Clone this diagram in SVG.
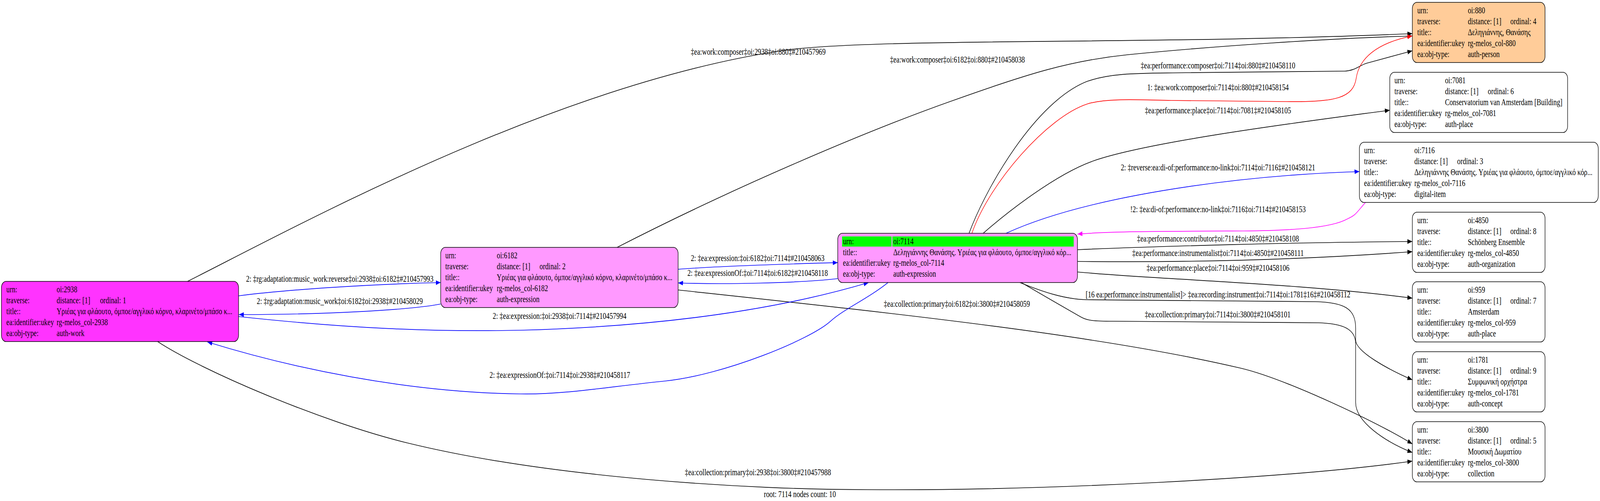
<svg xmlns="http://www.w3.org/2000/svg" width="5533" height="1282" viewBox="0 0 5533 1282" preserveAspectRatio="none" style="width:100vw;height:100vh">
<style>
text { font-family: "Liberation Serif", "Times New Roman", "Noto Sans CJK SC", serif; font-size: 23.33px; fill: #000; }
.lbl { text-anchor: middle; }
.box { stroke: #000; stroke-width: 1.7; }
.e { fill: none; stroke-width: 1.7; }
.k { stroke: #000; }
.b { stroke: #0000ff; }
.r { stroke: #ff0000; }
.m { stroke: #ff00ff; }
</style>
<defs>
<marker id="ak" markerUnits="userSpaceOnUse" markerWidth="17" markerHeight="12" viewBox="0 0 17 12" refX="17" refY="6" orient="auto"><path d="M0,0 L17,6 L0,12 z" fill="#000"/></marker>
<marker id="ab" markerUnits="userSpaceOnUse" markerWidth="17" markerHeight="12" viewBox="0 0 17 12" refX="17" refY="6" orient="auto"><path d="M0,0 L17,6 L0,12 z" fill="#0000ff"/></marker>
<marker id="ar" markerUnits="userSpaceOnUse" markerWidth="17" markerHeight="12" viewBox="0 0 17 12" refX="17" refY="6" orient="auto"><path d="M0,0 L17,6 L0,12 z" fill="#ff0000"/></marker>
<marker id="am" markerUnits="userSpaceOnUse" markerWidth="17" markerHeight="12" viewBox="0 0 17 12" refX="17" refY="6" orient="auto"><path d="M0,0 L17,6 L0,12 z" fill="#ff00ff"/></marker>
</defs>
<rect x="0" y="0" width="5533" height="1282" fill="#fff"/>

<g id="edges">
<path class="e k" marker-end="url(#ak)" d="M635,725 C1000,590 1900,220 2700,130 C3000,96 4000,115 4884,86"/>
<text class="lbl" x="2622" y="140">‡ea:work:composer‡oi:2938‡oi:880‡#210457969</text>
<path class="e k" marker-end="url(#ak)" d="M2134,633 C2534,481 3000,334 3300,256 C3550,190 3700,155 3900,140 C4200,118 4600,98 4884,92"/>
<text class="lbl" x="3311" y="160">‡ea:work:composer‡oi:6182‡oi:880‡#210458038</text>
<path class="e k" marker-end="url(#ak)" d="M3351,597 C3410,480 3580,260 3760,208 C3850,185 3950,188 4100,186 L4650,182 C4685,181 4700,168 4725,162 L4884,130"/>
<text class="lbl" x="4212" y="175">‡ea:performance:composer‡oi:7114‡oi:880‡#210458110</text>
<path class="e r" marker-end="url(#ar)" d="M3361,597 C3420,470 3620,300 3760,266 C3830,250 3950,256 4050,257 L4450,260 C4620,262 4680,250 4690,200 C4700,150 4760,110 4884,92"/>
<text class="lbl" x="4212" y="231">1: ‡ea:work:composer‡oi:7114‡oi:880‡#210458154</text>
<path class="e k" marker-end="url(#ak)" d="M3400,597 C3480,545 3650,446 3780,412 C3980,360 4556,307 4806,282"/>
<text class="lbl" x="4212" y="290">‡ea:performance:place‡oi:7114‡oi:7081‡#210458105</text>
<path class="e b" marker-end="url(#ab)" d="M3479,597 C3750,505 4250,450 4701,439"/>
<text class="lbl" x="4212" y="436">2: ‡reverse:ea:di-of:performance:no-link‡oi:7114‡oi:7116‡#210458121</text>
<path class="e m" marker-end="url(#am)" d="M4723,517 C4690,545 4690,550 4660,560 C4600,585 4450,590 4300,591 C4000,592 3850,592 3726,599"/>
<text class="lbl" x="4212" y="543">!2: ‡ea:di-of:performance:no-link‡oi:7116‡oi:7114‡#210458153</text>
<path class="e k" marker-end="url(#ak)" d="M3726,639 C4000,630 4500,620 4884,618"/>
<text class="lbl" x="4212" y="618">‡ea:performance:contributor‡oi:7114‡oi:4850‡#210458108</text>
<path class="e k" marker-end="url(#ak)" d="M3726,669 C4100,672 4500,665 4884,644"/>
<text class="lbl" x="4212" y="655">‡ea:performance:instrumentalist‡oi:7114‡oi:4850‡#210458111</text>
<path class="e k" marker-end="url(#ak)" d="M3726,696 C4000,715 4500,725 4884,763"/>
<text class="lbl" x="4212" y="693">‡ea:performance:place‡oi:7114‡oi:959‡#210458106</text>
<path class="e k" marker-end="url(#ak)" d="M3527,723 C3600,745 3680,766 3760,767 L4550,772 C4650,774 4688,790 4688,840 L4688,870 C4688,900 4800,945 4884,972"/>
<text class="lbl" x="4212" y="761">[16 ea:performance:instrumentalist]&gt; ‡ea:recording:instrument‡oi:7114‡oi:1781‡16‡#210458112</text>
<path class="e k" marker-end="url(#ak)" d="M3532,723 C3640,770 3700,795 3740,812 C3760,820 3780,822 3850,822 L4560,826 C4640,828 4688,840 4688,880 L4688,1030 C4688,1080 4790,1130 4884,1158"/>
<text class="lbl" x="4211" y="812">‡ea:collection:primary‡oi:7114‡oi:3800‡#210458101</text>
<path class="e k" marker-end="url(#ak)" d="M2345,742 C3045,798 3790,855 4290,942 C4440,968 4764,1080 4884,1136"/>
<text class="lbl" x="3309" y="785">‡ea:collection:primary‡oi:6182‡oi:3800‡#210458059</text>
<path class="e k" marker-end="url(#ak)" d="M545,874 C695,947 1112,1080 1412,1134 C1912,1224 2600,1253 3000,1253 C3600,1256 4450,1225 4884,1180"/>
<text class="lbl" x="2621" y="1216">‡ea:collection:primary‡oi:2938‡oi:3800‡#210457988</text>
<path class="e b" marker-end="url(#ab)" d="M825,757 C1000,740 1300,727 1524,723"/>
<text class="lbl" x="1175" y="721">2: ‡rg:adaptation:music_work:reverse‡oi:2938‡oi:6182‡#210457993</text>
<path class="e b" marker-end="url(#ab)" d="M1524,778 C1400,795 1100,805 826,805"/>
<text class="lbl" x="1175" y="778">2: ‡rg:adaptation:music_work‡oi:6182‡oi:2938‡#210458029</text>
<path class="e b" marker-end="url(#ab)" d="M825,810 C1200,840 1500,850 1800,845 C2300,835 2700,790 3004,723"/>
<text class="lbl" x="1935" y="816">2: ‡ea:expression:‡oi:2938‡oi:7114‡#210457994</text>
<path class="e b" marker-end="url(#ab)" d="M3071,723 C3000,765 2920,790 2872,822 C2800,870 2500,960 2300,975 C2100,990 1950,1010 1800,1008 C1400,1004 1000,940 717,875"/>
<text class="lbl" x="1936" y="967">2: ‡ea:expressionOf:‡oi:7114‡oi:2938‡#210458117</text>
<path class="e b" marker-end="url(#ab)" d="M2345,689 C2500,680 2750,675 2897,672"/>
<text class="lbl" x="2620" y="668">2: ‡ea:expression:‡oi:6182‡oi:7114‡#210458063</text>
<path class="e b" marker-end="url(#ab)" d="M2897,713 C2750,725 2500,728 2345,724"/>
<text class="lbl" x="2620" y="706">2: ‡ea:expressionOf:‡oi:7114‡oi:6182‡#210458118</text>
</g>

<g id="node-oi2938">
<rect class="box" x="5" y="720" width="820" height="154" rx="16" fill="#ff33ff"/>
<text x="22" y="748">urn:</text><text x="196" y="748">oi:2938</text>
<text x="22" y="776">traverse:</text><text x="196" y="776">distance: [1]</text><text x="346" y="776">ordinal: 1</text>
<text x="22" y="804">title::</text><text x="196" y="804">Υριέας για φλάουτο, όμποε/αγγλικό κόρνο, κλαρινέτο/μπάσο κ...</text>
<text x="22" y="832">ea:identifier:ukey</text><text x="196" y="832">rg-melos_col-2938</text>
<text x="22" y="860">ea:obj-type:</text><text x="196" y="860">auth-work</text>
</g>

<g id="node-oi6182">
<rect class="box" x="1524" y="633" width="821" height="154" rx="16" fill="#ff99ff"/>
<text x="1540" y="661">urn:</text><text x="1718" y="661">oi:6182</text>
<text x="1540" y="689">traverse:</text><text x="1718" y="689">distance: [1]</text><text x="1866" y="689">ordinal: 2</text>
<text x="1540" y="717">title::</text><text x="1718" y="717">Υριέας για φλάουτο, όμποε/αγγλικό κόρνο, κλαρινέτο/μπάσο κ...</text>
<text x="1540" y="745">ea:identifier:ukey</text><text x="1718" y="745">rg-melos_col-6182</text>
<text x="1540" y="773">ea:obj-type:</text><text x="1718" y="773">auth-expression</text>
</g>

<g id="node-oi7114">
<rect class="box" x="2897" y="597" width="829" height="126" rx="16" fill="#ff99ff"/>
<rect x="2912" y="605" width="171" height="26" fill="#00ff00"/>
<rect x="3086" y="605" width="627" height="26" fill="#00ff00"/>
<text x="2915" y="625">urn:</text><text x="3089" y="625">oi:7114</text>
<text x="2915" y="653">title::</text><text x="3089" y="653">Δεληγιάννης Θανάσης. Υριέας για φλάουτο, όμποε/αγγλικό κόρ...</text>
<text x="2915" y="680">ea:identifier:ukey</text><text x="3089" y="680">rg-melos_col-7114</text>
<text x="2915" y="708">ea:obj-type:</text><text x="3089" y="708">auth-expression</text>
</g>

<g id="node-oi880">
<rect class="box" x="4884" y="6" width="459" height="154" rx="16" fill="#ffcc99"/>
<text x="4901" y="34">urn:</text><text x="5076" y="34">oi:880</text>
<text x="4901" y="62">traverse:</text><text x="5076" y="62">distance: [1]</text><text x="5223" y="62">ordinal: 4</text>
<text x="4901" y="90">title::</text><text x="5076" y="90">Δεληγιάννης, Θανάσης</text>
<text x="4901" y="118">ea:identifier:ukey</text><text x="5076" y="118">rg-melos_col-880</text>
<text x="4901" y="146">ea:obj-type:</text><text x="5076" y="146">auth-person</text>
</g>

<g id="node-oi7081">
<rect class="box" x="4806" y="185" width="615" height="154" rx="16" fill="#fff"/>
<text x="4822" y="213">urn:</text><text x="4997" y="213">oi:7081</text>
<text x="4822" y="241">traverse:</text><text x="4997" y="241">distance: [1]</text><text x="5145" y="241">ordinal: 6</text>
<text x="4822" y="269">title::</text><text x="4997" y="269">Conservatorium van Amsterdam [Building]</text>
<text x="4822" y="297">ea:identifier:ukey</text><text x="4997" y="297">rg-melos_col-7081</text>
<text x="4822" y="325">ea:obj-type:</text><text x="4997" y="325">auth-place</text>
</g>

<g id="node-oi7116">
<rect class="box" x="4701" y="364" width="826" height="154" rx="16" fill="#fff"/>
<text x="4717" y="392">urn:</text><text x="4891" y="392">oi:7116</text>
<text x="4717" y="420">traverse:</text><text x="4891" y="420">distance: [1]</text><text x="5039" y="420">ordinal: 3</text>
<text x="4717" y="448">title::</text><text x="4891" y="448">Δεληγιάννης Θανάσης. Υριέας για φλάουτο, όμποε/αγγλικό κόρ...</text>
<text x="4717" y="476">ea:identifier:ukey</text><text x="4891" y="476">rg-melos_col-7116</text>
<text x="4717" y="504">ea:obj-type:</text><text x="4891" y="504">digital-item</text>
</g>

<g id="node-oi4850">
<rect class="box" x="4884" y="543" width="459" height="154" rx="16" fill="#fff"/>
<text x="4901" y="571">urn:</text><text x="5076" y="571">oi:4850</text>
<text x="4901" y="599">traverse:</text><text x="5076" y="599">distance: [1]</text><text x="5223" y="599">ordinal: 8</text>
<text x="4901" y="627">title::</text><text x="5076" y="627">Schönberg Ensemble</text>
<text x="4901" y="655">ea:identifier:ukey</text><text x="5076" y="655">rg-melos_col-4850</text>
<text x="4901" y="683">ea:obj-type:</text><text x="5076" y="683">auth-organization</text>
</g>

<g id="node-oi959">
<rect class="box" x="4884" y="721" width="459" height="154" rx="16" fill="#fff"/>
<text x="4901" y="749">urn:</text><text x="5076" y="749">oi:959</text>
<text x="4901" y="777">traverse:</text><text x="5076" y="777">distance: [1]</text><text x="5223" y="777">ordinal: 7</text>
<text x="4901" y="805">title::</text><text x="5076" y="805">Amsterdam</text>
<text x="4901" y="833">ea:identifier:ukey</text><text x="5076" y="833">rg-melos_col-959</text>
<text x="4901" y="861">ea:obj-type:</text><text x="5076" y="861">auth-place</text>
</g>

<g id="node-oi1781">
<rect class="box" x="4884" y="900" width="459" height="154" rx="16" fill="#fff"/>
<text x="4901" y="928">urn:</text><text x="5076" y="928">oi:1781</text>
<text x="4901" y="956">traverse:</text><text x="5076" y="956">distance: [1]</text><text x="5223" y="956">ordinal: 9</text>
<text x="4901" y="984">title::</text><text x="5076" y="984">Συμφωνική ορχήστρα</text>
<text x="4901" y="1012">ea:identifier:ukey</text><text x="5076" y="1012">rg-melos_col-1781</text>
<text x="4901" y="1040">ea:obj-type:</text><text x="5076" y="1040">auth-concept</text>
</g>

<g id="node-oi3800">
<rect class="box" x="4884" y="1079" width="459" height="154" rx="16" fill="#fff"/>
<text x="4901" y="1107">urn:</text><text x="5076" y="1107">oi:3800</text>
<text x="4901" y="1135">traverse:</text><text x="5076" y="1135">distance: [1]</text><text x="5223" y="1135">ordinal: 5</text>
<text x="4901" y="1163">title::</text><text x="5076" y="1163">Μουσική Δωματίου</text>
<text x="4901" y="1191">ea:identifier:ukey</text><text x="5076" y="1191">rg-melos_col-3800</text>
<text x="4901" y="1219">ea:obj-type:</text><text x="5076" y="1219">collection</text>
</g>

<text id="graph-label" class="lbl" x="2766" y="1272">root: 7114 nodes count: 10</text>
</svg>
